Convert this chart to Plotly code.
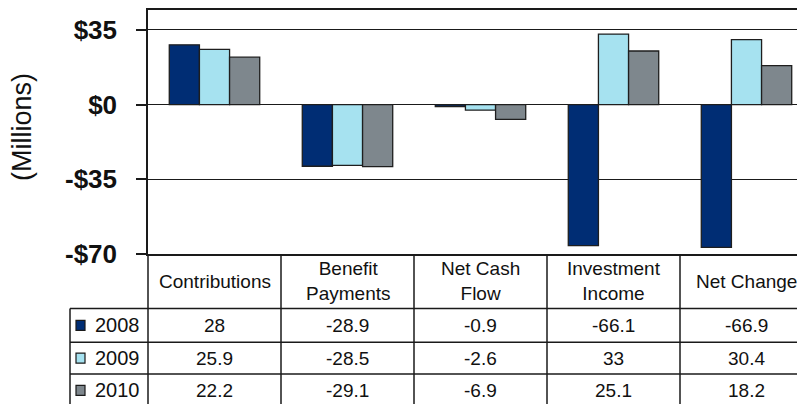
import plotly.graph_objects as go

# data
categories = ["Contributions", "Benefit<br>Payments", "Net Cash<br>Flow",
              "Investment<br>Income", "Net Change"]
years = ["2008", "2009", "2010"]
v2008 = [28, -28.9, -0.9, -66.1, -66.9]
v2009 = [25.9, -28.5, -2.6, 33, 30.4]
v2010 = [22.2, -29.1, -6.9, 25.1, 18.2]
tick_vals = [35, 0, -35, -70]
tick_text = ["$35", "$0", "-$35", "-$70"]

series = [v2008, v2009, v2010]
colors = ["#002D74", "#A6E2F0", "#7E878D"]
FONT = "Liberation Sans, Arial, sans-serif"

# the page puts the figure 8px in from the corner, so work in figure pixels
OFF = 8
W, H = 805 - OFF, 404 - OFF
L, T, B = 148 - OFF, 0, 254 - OFF   # plot area left / top / bottom
pw, ph = W - L, B - T
col_w = 133                          # one category column
xmin = -0.5
xmax = xmin + pw / col_w
row_lines = [y - OFF for y in (309, 343, 375, 408)]
leg_left = 70 - OFF


def px(x):
    return (x - L) / pw


def py(y):
    return (B - y) / ph


def cat_px(xd):
    return L + (xd - xmin) / (xmax - xmin) * pw


fig = go.Figure()
for yr, vals, c in zip(years, series, colors):
    fig.add_trace(go.Bar(x=categories, y=vals, name=yr,
                         marker=dict(color=c, line=dict(color="#1e1e1e", width=1.3))))

shapes = []
line = dict(color="#1a1a1a", width=1.5)
# vertical column lines of the table
for i in range(1, len(categories)):
    xp = px(cat_px(i - 0.5))
    shapes.append(dict(type="line", xref="paper", yref="paper",
                       x0=xp, x1=xp, y0=0, y1=py(H + 5), line=line))
# legend column left edge + left table edge
shapes.append(dict(type="line", xref="paper", yref="paper", x0=px(leg_left), x1=px(leg_left),
                   y0=py(row_lines[0]), y1=py(H + 5), line=line))
shapes.append(dict(type="line", xref="paper", yref="paper", x0=0, x1=0,
                   y0=0, y1=py(H + 5), line=line))
# horizontal row lines
for yl in row_lines[:-1]:
    shapes.append(dict(type="line", xref="paper", yref="paper", x0=px(leg_left), x1=1.02,
                       y0=py(yl), y1=py(yl), line=line))

annotations = []
tfont = dict(family=FONT, size=19, color="#111")
# header labels
for c in categories:
    annotations.append(dict(x=c, xref="x", y=py((B + row_lines[0]) / 2), yref="paper",
                            text=c, showarrow=False, font=tfont,
                            xanchor="center", yanchor="middle"))
# rows
for r, (yr, vals, col) in enumerate(zip(years, series, colors)):
    yc = (row_lines[r] + row_lines[r + 1]) / 2
    for c, v in zip(categories, vals):
        annotations.append(dict(x=c, xref="x", y=py(yc), yref="paper",
                                text=f"{v:g}", showarrow=False, font=tfont,
                                xanchor="center", yanchor="middle"))
    # legend key + year
    shapes.append(dict(type="rect", xref="paper", yref="paper",
                       x0=px(76 - OFF), x1=px(85 - OFF), y0=py(yc - 5), y1=py(yc + 5),
                       fillcolor=col, line=dict(color="#1a1a1a", width=1.2)))
    annotations.append(dict(x=px(93 - OFF), xref="paper", y=py(yc), yref="paper",
                            text=yr, showarrow=False, font=dict(family=FONT, size=20, color="#111"),
                            xanchor="left", yanchor="middle"))

annotations.append(dict(x=px(22 - OFF), xref="paper", y=py(126 - OFF), yref="paper",
                        text="(Millions)", textangle=-90, showarrow=False,
                        font=dict(family=FONT, size=27, color="#111"),
                        xanchor="center", yanchor="middle"))

fig.update_layout(
    width=W, height=H,
    margin=dict(l=L, r=0, t=T, b=H - B),
    paper_bgcolor="white", plot_bgcolor="white",
    barmode="group", bargap=0.32, bargroupgap=0,
    showlegend=False,
    shapes=shapes, annotations=annotations,
    xaxis=dict(range=[xmin, xmax], showticklabels=False, ticks="",
               showline=True, mirror=True, linecolor="#1a1a1a", linewidth=1.5,
               showgrid=False, zeroline=False),
    yaxis=dict(range=[-70, 44.3], tickvals=tick_vals, ticktext=tick_text,
               ticks="outside", ticklen=10, tickcolor="#1a1a1a", tickwidth=1.5,
               ticklabelstandoff=14,
               tickfont=dict(family=FONT, size=26, color="#111", weight="bold"),
               showline=True, linecolor="#1a1a1a", linewidth=1.5,
               showgrid=True, gridcolor="#1a1a1a", gridwidth=1.3,
               zeroline=True, zerolinecolor="#1a1a1a", zerolinewidth=1.3),
)

fig.write_html("out.html")
